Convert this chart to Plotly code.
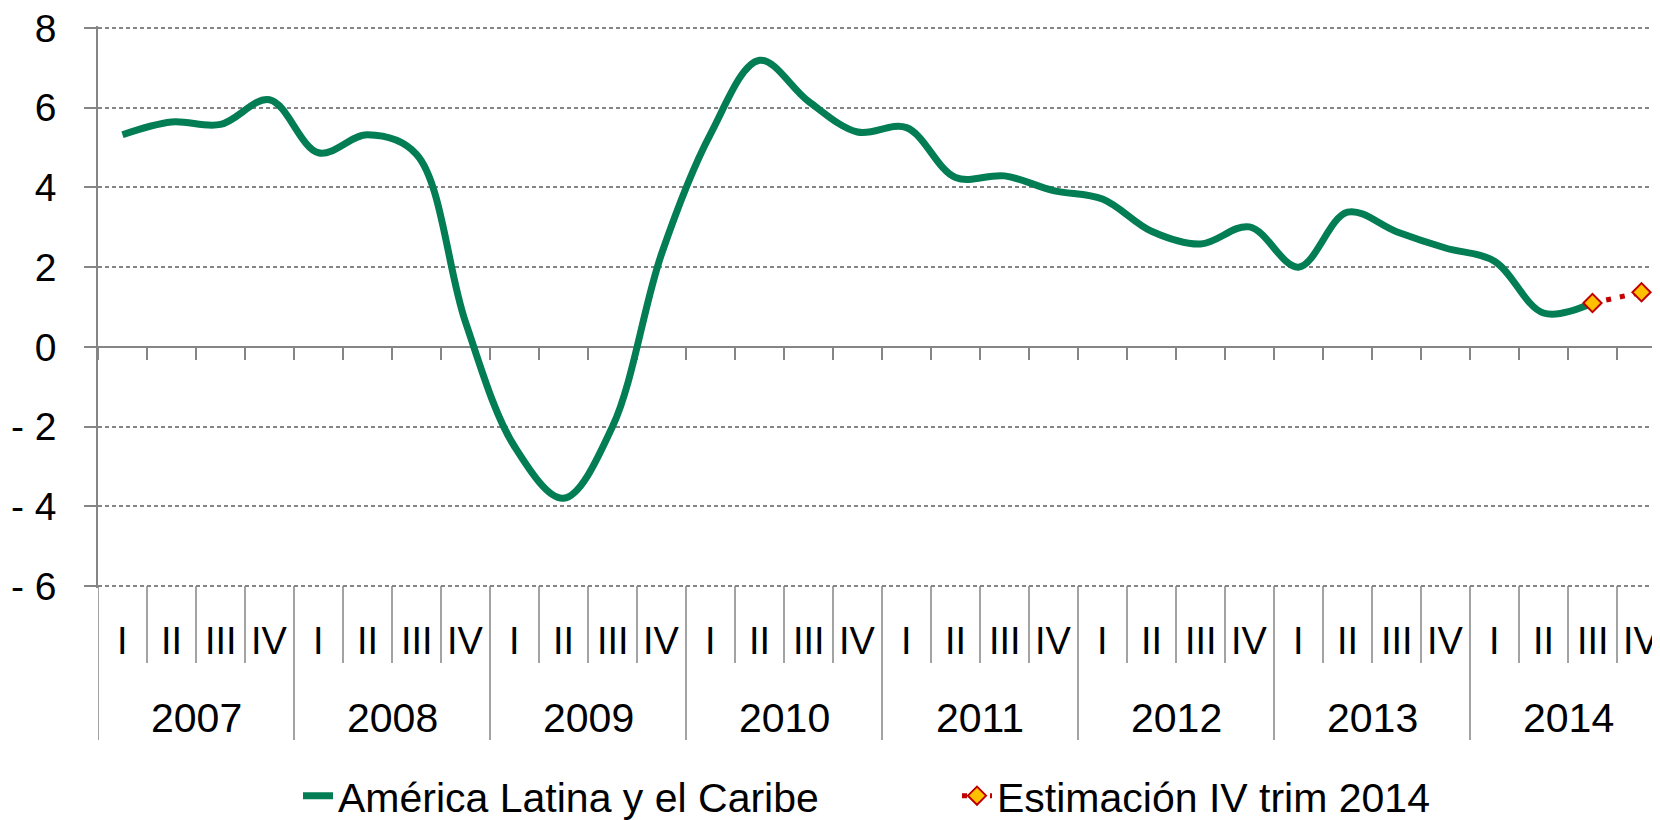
import plotly.graph_objects as go

# ---------------- data ----------------
quarters = ["I", "II", "III", "IV"]
years = ["2007", "2008", "2009", "2010", "2011", "2012", "2013", "2014"]
quarter_labels = quarters * len(years)

alc_name = "América Latina y el Caribe"
alc_values = [5.32, 5.64, 5.58, 6.20,
              4.87, 5.32, 4.83, 0.62,
              -2.50, -3.80, -2.00, 2.33,
              5.34, 7.19, 6.16, 5.39,
              5.50, 4.25, 4.29, 3.92,
              3.71, 2.90, 2.58, 3.01,
              2.00, 3.38, 2.89, 2.48,
              2.15, 0.85, 1.10]

est_name = "Estimación IV trim 2014"
est_index = [30, 31]
est_values = [1.10, 1.37]

y_tickvals = [-6, -4, -2, 0, 2, 4, 6, 8]
y_ticktext = ["- 6", "- 4", "- 2", "0", "2", "4", "6", "8"]

# ---------------- layout constants ----------------
W, H = 1660, 820
ML, MR, MT, MB = 90, 2, 18, 240
PLOT_BOTTOM = H - MB
PLOT_H = H - MT - MB
FONT = "Liberation Sans, Arial, sans-serif"
FS = 41
GRAY = "#858585"
GREEN = "#027d54"
RED = "#c00000"
GOLD = "#ffc000"
EPS = 0.05  # small range padding so the end gridlines are drawn


def py(px):
    """figure pixel row -> paper y"""
    return (PLOT_BOTTOM - px) / PLOT_H


def pxx(px):
    """figure pixel column -> paper x"""
    return (px - ML) / (W - ML - MR)


n_cat = len(quarter_labels)
x_min, x_max = -0.5, n_cat - 0.5
ymin, ymax = y_tickvals[0] - EPS, y_tickvals[-1] + EPS


def yv(v):
    """data value -> paper y"""
    return (v - ymin) / (ymax - ymin)


fig = go.Figure()
fig.add_trace(go.Scatter(
    x=list(range(len(alc_values))), y=alc_values, name=alc_name, legend="legend",
    mode="lines", line=dict(color=GREEN, width=7, shape="spline", smoothing=1.0),
    hoverinfo="skip"))
fig.add_trace(go.Scatter(
    x=est_index, y=est_values, name=est_name, legend="legend2",
    mode="lines+markers", line=dict(color=RED, width=5, dash="5px,9px"),
    marker=dict(symbol="diamond", size=14, color=GOLD, line=dict(color=RED, width=2)),
    hoverinfo="skip"))

shapes = []
annotations = []
# quarter / year separators below the plot
for i in range(n_cat + 1):
    xb = i - 0.5
    is_year = (i % 4 == 0)
    shapes.append(dict(type="line", xref="x", yref="paper", x0=xb, x1=xb,
                       y0=yv(y_tickvals[0]), y1=py(732 if is_year else 655),
                       line=dict(color=GRAY, width=1.5)))
for i, q in enumerate(quarter_labels):
    annotations.append(dict(x=i, y=py(633), xref="x", yref="paper", text=q,
                            showarrow=False, xanchor="center", yanchor="middle",
                            font=dict(family=FONT, size=38, color="black")))
for k, yr in enumerate(years):
    annotations.append(dict(x=4 * k + 1.5, y=py(710), xref="x", yref="paper", text=yr,
                            showarrow=False, xanchor="center", yanchor="middle",
                            font=dict(family=FONT, size=FS, color="black")))

legend_common = dict(orientation="h", xanchor="left", yanchor="middle",
                     y=py(788), bgcolor="rgba(0,0,0,0)", borderwidth=0,
                     font=dict(family=FONT, size=FS, color="black"))

fig.update_layout(
    template="none",
    width=W, height=H,
    margin=dict(l=ML, r=MR, t=MT, b=MB, pad=0, autoexpand=False),
    paper_bgcolor="white", plot_bgcolor="white",
    font=dict(family=FONT, size=FS, color="black"),
    showlegend=True,
    legend=dict(x=pxx(290), **legend_common),
    legend2=dict(x=pxx(949), **legend_common),
    shapes=shapes,
    annotations=annotations,
    xaxis=dict(range=[x_min, x_max], showgrid=False, zeroline=False,
               anchor="free", position=yv(0),
               showline=True, linecolor=GRAY, linewidth=1.5,
               tickmode="linear", tick0=-0.5, dtick=1,
               ticks="outside", ticklen=12, tickwidth=1.5, tickcolor=GRAY,
               showticklabels=False, layer="below traces", fixedrange=True,
               automargin=False),
    yaxis=dict(range=[ymin, ymax], tickvals=y_tickvals, ticktext=y_ticktext,
               showgrid=True, gridcolor=GRAY, gridwidth=1.5, griddash="4px,3px",
               zeroline=False, showline=True, linecolor=GRAY, linewidth=1.5,
               ticks="outside", ticklen=12, tickwidth=1.5, tickcolor=GRAY,
               ticklabelstandoff=20, ticklabeloverflow="allow",
               tickfont=dict(family=FONT, size=39, color="black"),
               layer="below traces", fixedrange=True, automargin=False),
)

fig.write_html("out.html")
